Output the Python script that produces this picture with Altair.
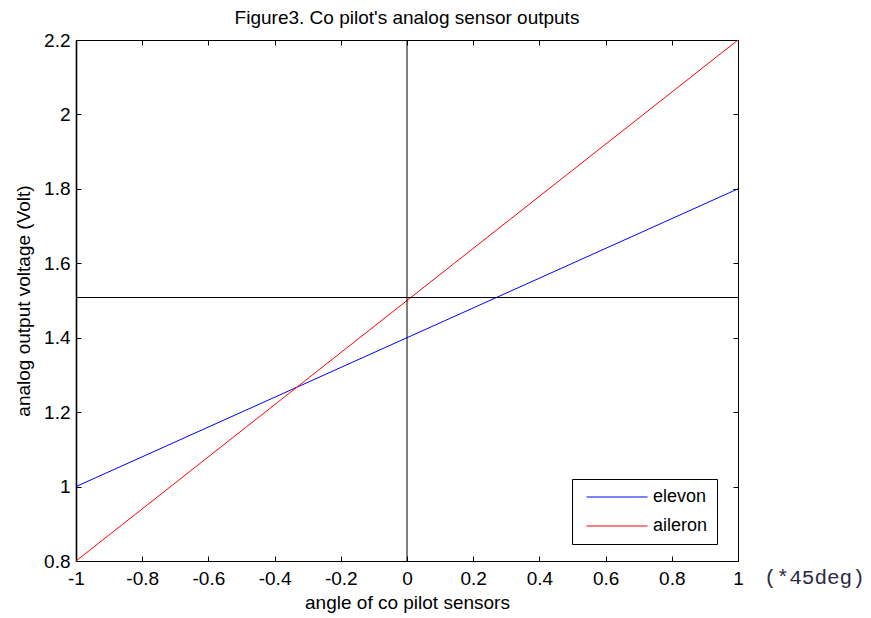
import altair as alt
import pandas as pd

# ---- data ----
angles = [-1.0, 1.0]
elevon = [1.0, 1.8]
aileron = [0.8, 2.2]
series_names = ["elevon", "aileron"]
series_colors = ["#0000ff", "#ff0000"]
x_ticks = [-1, -0.8, -0.6, -0.4, -0.2, 0, 0.2, 0.4, 0.6, 0.8, 1]
y_ticks = [0.8, 1, 1.2, 1.4, 1.6, 1.8, 2, 2.2]
h_ref = [1.508]
v_ref = [0.0]
unit_note = ["(*45deg)"]

W, H = 662, 521
FONT = "Liberation Sans"
FS = 19

df = pd.DataFrame({
    "angle": angles + angles,
    "voltage": elevon + aileron,
    "series": [series_names[0]] * len(angles) + [series_names[1]] * len(angles),
})

xs = alt.Scale(domain=[-1, 1], nice=False, zero=False)
ys = alt.Scale(domain=[0.8, 2.2], nice=False, zero=False)
lab = "toString(datum.value)"

lines = alt.Chart(df).mark_line(strokeWidth=1).encode(
    x=alt.X("angle:Q", scale=xs, axis=alt.Axis(
        orient="bottom", values=x_ticks, ticks=False, tickSize=0, domain=True,
        domainColor="black", domainWidth=1, grid=False,
        labelFlush=False, labelPadding=8, labelExpr=lab, labelFont=FONT, labelFontSize=FS,
        labelColor="black", title="angle of co pilot sensors", titleFont=FONT,
        titleFontSize=FS, titleFontWeight="normal", titleColor="black", titlePadding=5)),
    y=alt.Y("voltage:Q", scale=ys, axis=alt.Axis(
        orient="left", values=y_ticks, ticks=False, tickSize=0, domain=False, grid=False,
        labelFlush=False, labelPadding=6, labelExpr=lab, labelFont=FONT, labelFontSize=FS,
        labelColor="black", title="analog output voltage (Volt)", titleFont=FONT,
        titleFontSize=FS, titleFontWeight="normal", titleColor="black", titlePadding=10)),
    color=alt.Color("series:N", scale=alt.Scale(domain=series_names, range=series_colors),
                    legend=alt.Legend(
                        title=None, orient="none", legendX=496, legendY=439,
                        symbolType="M-5,0H5", symbolSize=149, symbolStrokeWidth=1,
                        symbolOffset=27, strokeColor="black", fillColor="white", padding=9,
                        labelFont=FONT, labelFontSize=18, labelColor="black",
                        labelOffset=27, rowPadding=11)),
)

vrule = alt.Chart(pd.DataFrame({"v": v_ref})).mark_rule(color="black", strokeWidth=1).encode(
    x=alt.X("v:Q", scale=xs, axis=alt.Axis(
        orient="top", offset=-H, values=x_ticks, labels=False, ticks=True, tickSize=5,
        tickColor="black", domain=False, grid=False, title=None)),
)

hrule = alt.Chart(pd.DataFrame({"h": h_ref})).mark_rule(color="black", strokeWidth=1).encode(
    y=alt.Y("h:Q", scale=ys, axis=alt.Axis(
        orient="right", offset=-W, values=y_ticks, labels=False, ticks=True, tickSize=5,
        tickColor="black", domain=True, domainColor="black", domainWidth=1.6,
        grid=False, title=None)),
)

ghost = alt.Chart(df).mark_point(opacity=0).encode(
    x=alt.X("angle:Q", scale=xs, axis=alt.Axis(
        orient="bottom", offset=-H, values=x_ticks, labels=False, ticks=True, tickSize=5,
        tickColor="black", domain=True, domainColor="black", domainWidth=1,
        grid=False, title=None)),
    y=alt.Y("voltage:Q", scale=ys, axis=alt.Axis(
        orient="left", offset=-W, values=y_ticks, labels=False, ticks=True, tickSize=5,
        tickColor="black", domain=True, domainColor="black", domainWidth=1,
        grid=False, title=None)),
)

note = alt.Chart(pd.DataFrame({"t": unit_note})).mark_text(
    align="left", baseline="middle", font="Liberation Mono", fontSize=21,
    color="#2a2a44", clip=False,
).encode(text="t:N", x=alt.value(688), y=alt.value(538))

chart = alt.layer(lines, vrule, hrule, ghost, note).properties(
    width=W, height=H,
    title=alt.TitleParams("Figure3. Co pilot's analog sensor outputs", font=FONT,
                          fontSize=FS, fontWeight="normal", color="black", offset=3,
                          anchor="middle"),
    autosize=alt.AutoSizeParams(type="none"),
    padding={"left": 76, "top": 40, "right": 133, "bottom": 57},
).configure_view(stroke="transparent", strokeWidth=0).configure(background="white")

chart.save("out.html", embed_options={"renderer": "svg", "actions": False})
